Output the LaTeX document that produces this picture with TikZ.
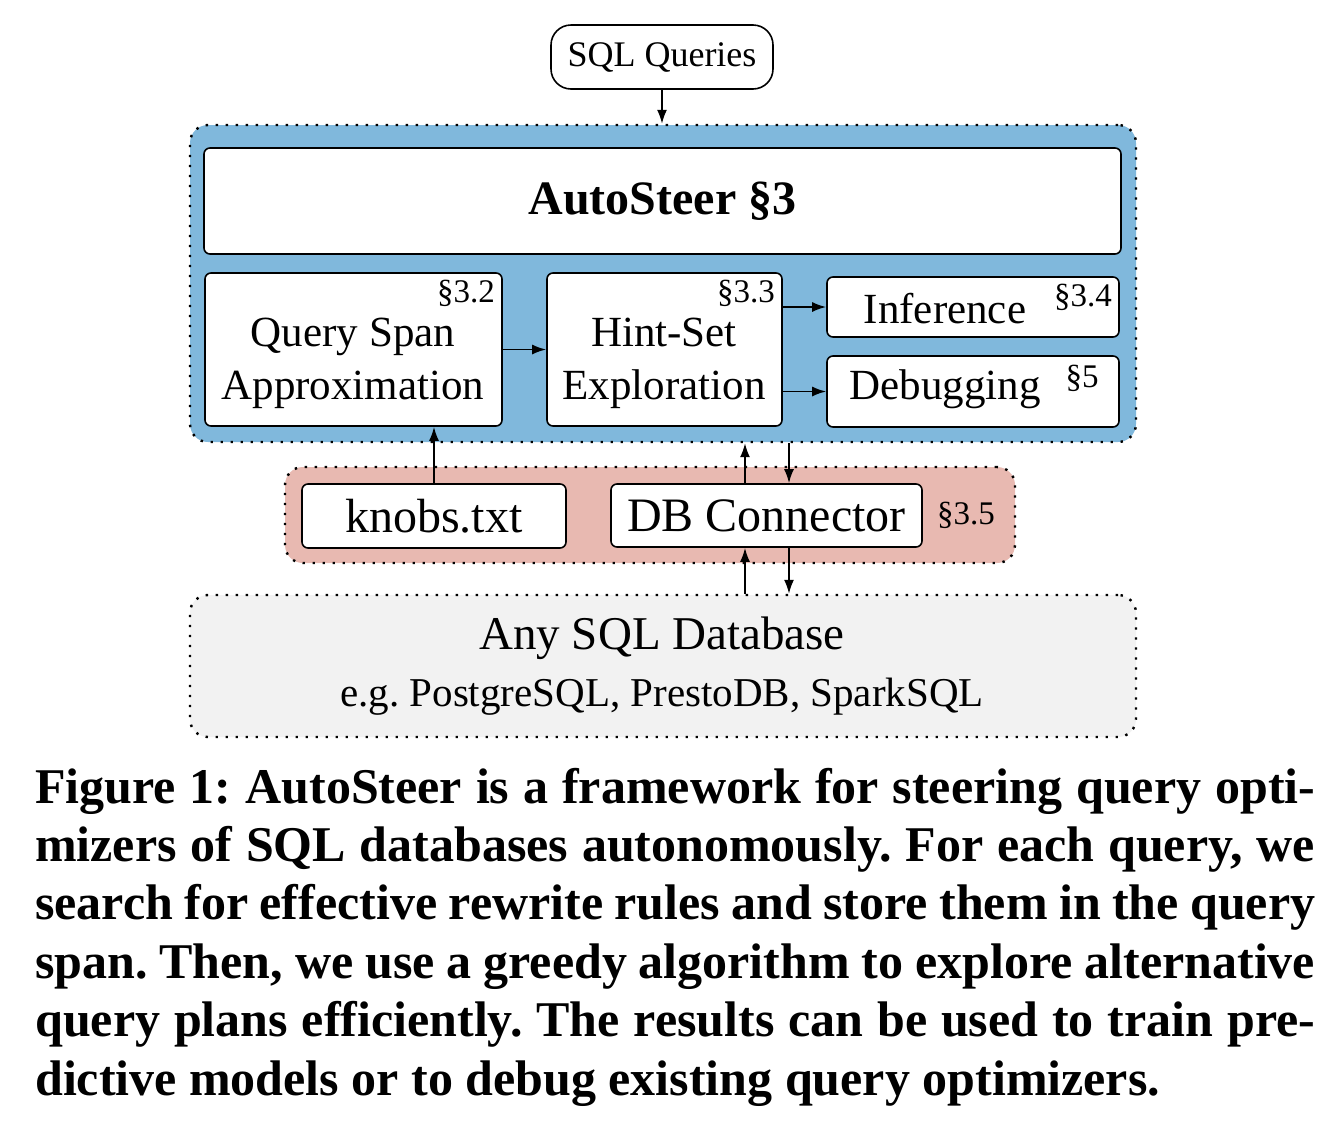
\documentclass[tikz,border=0pt]{standalone}
\usepackage{fontspec}
\setmainfont{Liberation Serif}
\usepackage{xcolor}
\usepackage{tikz}
\usetikzlibrary{arrows.meta}

\definecolor{steerblue}{RGB}{128,184,220}
\definecolor{connred}{RGB}{232,185,177}
\definecolor{dbgray}{RGB}{242,242,242}

\begin{document}
\frenchspacing
\begin{tikzpicture}[x=1pt, y=-1pt,
        box/.style={draw, line width=1.6pt, fill=white, rounded corners=6pt, inner sep=0pt},
        group/.style={draw, line width=2.4pt, dash pattern=on 2.4pt off 7.6pt, rounded corners=18pt, inner sep=0pt},
        txt/.style={inner sep=0pt, align=center, font=\fontsize{43}{53}\selectfont},
        sec/.style={inner sep=0pt, font=\fontsize{33}{36}\selectfont},
        arr/.style={line width=1.8pt, -{Latex[length=14pt, width=10pt]}}]
        \fill[white] (0, 0) rectangle (1342, 1144);
        \useasboundingbox (0, 0) rectangle (1342, 1144);

        % input
        \node[box, rounded corners=20pt, minimum width=222pt, minimum height=64pt,
            font=\fontsize{36}{40}\selectfont] (sql) at (662, 57) {SQL Queries};

        % AutoSteer block
        \node[group, fill=steerblue, minimum width=946pt, minimum height=317pt] (blue) at (663, 283.5) {};
        \node[box, minimum width=917pt, minimum height=106pt,
            font=\fontsize{48}{52}\selectfont\bfseries] (auto) at (662.5, 201) {AutoSteer §3};
        \node[box, minimum width=297pt, minimum height=153pt] (qspan) at (353.5, 349.5) {};
        \node[box, minimum width=235pt, minimum height=153pt] (hint) at (664.5, 349.5) {};
        \node[box, minimum width=292pt, minimum height=60pt] (infer) at (973, 307) {};
        \node[box, minimum width=292pt, minimum height=71pt] (debug) at (973, 391.5) {};

        \node[txt] at (353, 363) {Query Span\\Approximation};
        \node[txt] at (664, 363) {Hint-Set\\Exploration};
        \node[txt] at (945, 309) {Inference};
        \node[txt] at (945, 389) {Debugging};
        \node[sec] at (466, 293) {§3.2};
        \node[sec] at (746, 293) {§3.3};
        \node[sec] at (1083, 297) {§3.4};
        \node[sec] at (1082, 378) {§5};

        % connector block
        \node[group, fill=connred, minimum width=730pt, minimum height=96pt] (red) at (650, 515) {};
        \node[box, minimum width=264pt, minimum height=64pt,
            font=\fontsize{48}{52}\selectfont] (knobs) at (434, 516) {knobs.txt};
        \node[box, minimum width=311pt, minimum height=63pt,
            font=\fontsize{48}{52}\selectfont] (dbc) at (766.5, 515.5) {DB Connector};
        \node[sec] at (966, 515) {§3.5};

        % database
        \node[group, fill=dbgray, minimum width=946pt, minimum height=142pt] (gray) at (663, 666) {};
        \node[txt, font=\fontsize{47}{52}\selectfont] at (662, 638) {Any SQL Database};
        \node[txt, font=\fontsize{41}{48}\selectfont] at (662, 697) {e.g. PostgreSQL, PrestoDB, SparkSQL};

        % arrows
        \draw[arr] (sql.south) -- (sql.south |- blue.north);
        \draw[arr] (qspan) -- (hint);
        \draw[arr] (hint.east |- infer) -- (infer.west);
        \draw[arr] (hint.east |- debug) -- (debug.west);
        \draw[arr] (knobs.north) -- (knobs.north |- qspan.south);
        \draw[arr] ([xshift=-21.5pt]dbc.north) -- ([xshift=-21.5pt]dbc.north |- blue.south);
        \draw[arr] ([xshift=22.5pt]dbc.north |- blue.south) -- ([xshift=22.5pt]dbc.north);
        \draw[arr] ([xshift=-21.5pt]dbc.south |- gray.north) -- ([xshift=-21.5pt]dbc.south);
        \draw[arr] ([xshift=22.5pt]dbc.south) -- ([xshift=22.5pt]dbc.south |- gray.north);

        % caption
        \node[anchor=base west, inner sep=0pt, text width=1280pt, align=justify,
            font=\fontsize{50}{58.4}\selectfont\bfseries] (caption) at (35, 803)
            {Figure 1: AutoSteer is a framework for steering query opti-\linebreak
            mizers of SQL databases autonomously. For each query, we\linebreak
            search for effective rewrite rules and store them in the query\linebreak
            span. Then, we use a greedy algorithm to explore alternative\linebreak
            query plans efficiently. The results can be used to train pre-\linebreak
            dictive models or to debug existing query optimizers.};
    \end{tikzpicture}
\end{document}
